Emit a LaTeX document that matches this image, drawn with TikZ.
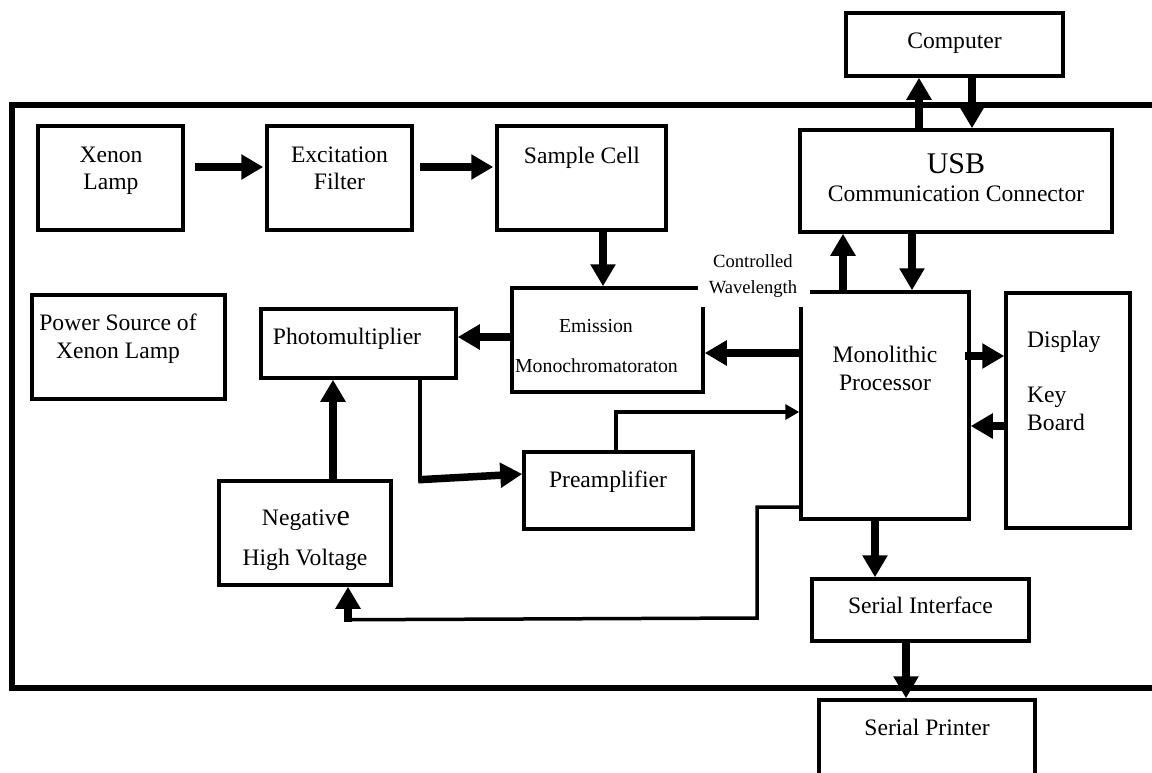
\documentclass[tikz,border=0pt]{standalone}
\usepackage{fontspec}
\setmainfont{Liberation Serif}
\usetikzlibrary{arrows.meta,calc}
\begin{document}
\begin{tikzpicture}[x=1pt,y=-1pt,
  box/.style={draw, line width=3.5pt, inner sep=0pt, fill=white},
  txt/.style={font=\fontsize{23.6}{28}\selectfont, inner sep=0pt, anchor=base},
  smalltxt/.style={font=\fontsize{19.8}{24}\selectfont, inner sep=0pt, anchor=base},
  tinytxt/.style={font=\fontsize{18.6}{22}\selectfont, inner sep=0pt, anchor=base},
  big/.style={line width=7.5pt, -{Triangle[length=22pt,width=24pt]}},
  thinline/.style={line width=3.5pt},
  thinarr/.style={line width=3.5pt, -{Triangle[length=14pt,width=15pt]}},
]
\clip (0,0) rectangle (1152,772);
\fill[white] (0,0) rectangle (1152,772);
% outer frame
\draw[line width=5.5pt] (1170,105) -- (12,105) -- (12,688) -- (1170,688);
% boxes
\node[box, minimum width=145pt, minimum height=104pt] (xenon) at (110.5,178) {};
\node[box, minimum width=145pt, minimum height=104pt] (excit) at (339.5,178) {};
\node[box, minimum width=169pt, minimum height=104pt] (sample) at (581.5,178) {};
\node[box, minimum width=193pt, minimum height=104pt] (power) at (128.5,347) {};
\node[box, minimum width=195pt, minimum height=69pt] (pm) at (358.5,343.5) {};
\node[box, minimum width=191pt, minimum height=104pt] (emis) at (607.5,340) {};
\node[box, minimum width=172pt, minimum height=104pt] (nhv) at (305,533) {};
\node[box, minimum width=169pt, minimum height=77pt] (preamp) at (608.5,490.5) {};
\node[box, minimum width=168pt, minimum height=227pt] (proc) at (885,405.5) {};
\node[box, minimum width=124pt, minimum height=235pt] (disp) at (1068,410.5) {};
\node[box, minimum width=312pt, minimum height=102pt] (usb) at (956,181) {};
\node[box, minimum width=217pt, minimum height=63pt] (comp) at (954.5,44.5) {};
\node[box, minimum width=217pt, minimum height=62pt] (serint) at (920.5,610) {};
\node[box, minimum width=216pt, minimum height=100pt] (printer) at (927,750) {};
% connectors
\draw[big] ($(xenon.east)+(10,-11)$) -- ($(excit.west)+(-2,-11)$);
\draw[big] ($(excit.east)+(6,-11)$) -- ($(sample.west)+(-2,-11)$);
\draw[big] ($(sample.south)+(21.5,0)$) -- ($(emis.north)+(-4.5,0)$);
\draw[big] ($(emis.west)+(0,-3)$) -- ($(pm.east)+(0,-6.5)$);
\draw[big] ($(proc.west)+(0,-52.5)$) -- ($(emis.east)+(0,13)$);
\draw[big] ($(nhv.north)+(28,0)$) -- ($(pm.south)+(-25.5,0)$);
\coordinate (pmbend) at ($(pm.south)+(61.5,100)$);
\draw[thinline] ($(pm.south)+(61.5,0)$) -- ($(pmbend)+(0,2)$);
\draw[big] ($(pmbend)+(-1.7,0)$) -- ($(preamp.west)+(0,-16.5)$);
\draw[thinarr] ($(preamp.north)+(7.5,0)$) |- ($(proc.west)+(0,6.5)$);
\coordinate (fb1) at (757,618);
\coordinate (fb2) at ($(nhv.south)+(43,33)$);
\draw[thinline] ($(proc.west)+(0,101.5)$) -| (fb1) -- ($(fb2)+(-3.75,0)$);
\draw[big] ($(fb2)+(0,1.75)$) -- ($(nhv.south)+(43,0)$);
\draw[big] ($(proc.north)+(-42,0)$) -- ($(usb.south)+(-113,0)$);
\draw[big] ($(usb.south)+(-44,0)$) -- ($(proc.north)+(27,0)$);
\draw[big] ($(usb.north)+(-37,0)$) -- ($(comp.south)+(-35.5,0)$);
\draw[big] ($(comp.south)+(17.5,0)$) -- ($(usb.north)+(16,0)$);
\draw[big] ($(proc.east)+(-6,-49.5)$) -- ($(disp.west)+(0,-54.5)$);
\draw[big] ($(disp.west)+(0,15.5)$) -- ($(proc.east)+(0,20.5)$);
\draw[big] ($(proc.south)+(-10,0)$) -- ($(serint.north)+(-45.5,0)$);
\draw[big] ($(serint.south)+(-14.5,0)$) -- ($(printer.north)+(-21,0)$);
% label patch
\node[fill=white, inner sep=0pt, minimum width=112pt, minimum height=58pt] (cwbg) at (754,278) {};
% texts
\node[txt] (t1) at (111,162) {Xenon};
\node[txt] (t2) at (111,189) {Lamp};
\node[txt] (t3) at (339.5,162) {Excitation};
\node[txt] (t4) at (339.5,189) {Filter};
\node[txt] (t5) at (582,163) {Sample Cell};
\node[txt] (t6) at (118,330) {Power Source of};
\node[txt] (t7) at (118,358) {Xenon Lamp};
\node[txt] (t8) at (347,344) {Photomultiplier};
\node[smalltxt] (t9) at (596,332) {Emission};
\node[smalltxt] (t10) at (596.5,372) {Monochromatoraton};
\node[tinytxt] (t11) at (753,267) {Controlled};
\node[tinytxt] (t12) at (753,293) {Wavelength};
\node[txt] (t13) at (306,525) {Negativ{\fontsize{30}{30}\selectfont e}};
\node[txt] (t14) at (305,565) {High Voltage};
\node[txt] (t15) at (608,487) {Preamplifier};
\node[txt] (t16) at (885,362) {Monolithic};
\node[txt] (t17) at (885,390) {Processor};
\node[txt, anchor=base west] (t18) at (1027,347) {Display};
\node[txt, anchor=base west] (t19) at (1027,402) {Key};
\node[txt, anchor=base west] (t20) at (1027,430) {Board};
\node[txt] (t21) at (954.5,48) {Computer};
\node[txt, font=\fontsize{30}{30}\selectfont] (t22) at (956,173) {USB};
\node[txt] (t23) at (956,201) {Communication Connector};
\node[txt] (t24) at (920.5,613) {Serial Interface};
\node[txt] (t25) at (927,735) {Serial Printer};
\end{tikzpicture}
\end{document}
